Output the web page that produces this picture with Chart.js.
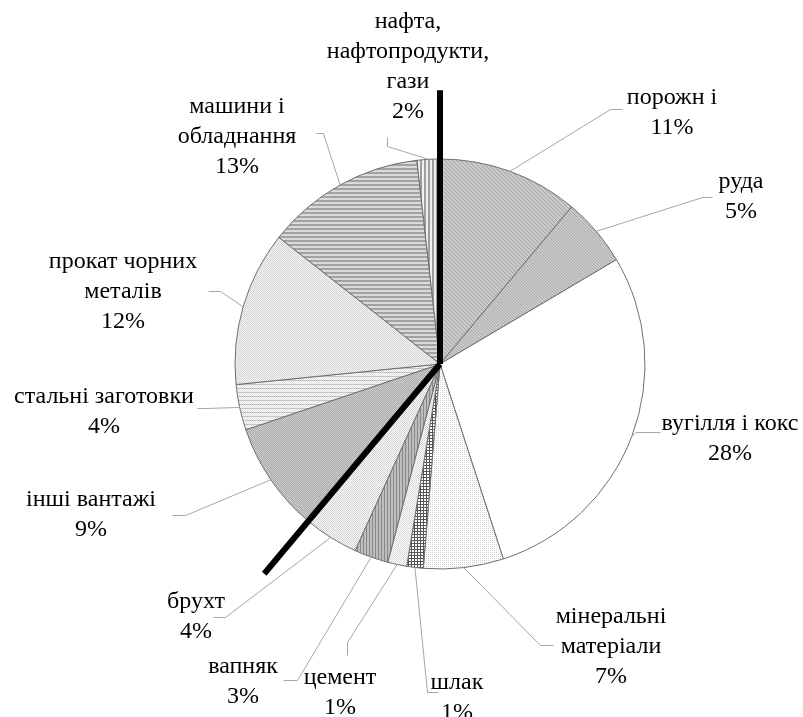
<!DOCTYPE html>
<html lang="uk">
<head>
<meta charset="UTF-8">
<title>Структура вантажів</title>
<script src="https://cdn.jsdelivr.net/npm/chart.js"></script>
<style>
  html, body { margin: 0; padding: 0; background: #fff; }
  canvas { display: block; }
</style>
</head>
<body>
<canvas id="pie" width="803" height="717"></canvas>
<script>
// categories, clockwise from 12 o'clock
const categories = ['порожн і', 'руда', 'вугілля і кокс', 'мінеральні матеріали', 'шлак', 'цемент',
  'вапняк', 'брухт', 'інші вантажі', 'стальні заготовки', 'прокат чорних металів',
  'машини і обладнання', 'нафта, нафтопродукти, гази'];
// shares (%)
const shares = [11.1, 5.4, 28.5, 6.3, 1.3, 1.5, 2.7, 4.3, 8.7, 3.6, 12.2, 12.6, 1.8];
// percentages as printed on the labels
const percentLabels = ['11%', '5%', '28%', '7%', '1%', '1%', '3%', '4%', '9%', '4%', '12%', '13%', '2%'];
// thick divider lines start at these slices
const dividerSlices = [0, 8];

// label placement, offsets from the pie centre: text centre x, first baseline y, leader elbows
const labelLayout = [
  { lines: ['порожн і'], x: 232, y: -260, path: [[170, -255], [182, -255]] },
  { lines: ['руда'], x: 301, y: -176, path: [[262, -167], [272, -167]] },
  { lines: ['вугілля і кокс'], x: 290, y: 66, path: [[196, 68], [220, 68]] },
  { lines: ['мінеральні', 'матеріали'], x: 171, y: 259, path: [[100, 281], [113, 281]] },
  { lines: ['шлак'], x: 17, y: 325, path: [[-13, 328], [-2, 328]] },
  { lines: ['цемент'], x: -100, y: 320, path: [[-93, 278], [-93, 291]] },
  { lines: ['вапняк'], x: -197, y: 309, path: [[-143, 316], [-157, 316]] },
  { lines: ['брухт'], x: -244, y: 244, path: [[-215, 253], [-227, 253]] },
  { lines: ['інші вантажі'], x: -349, y: 142, path: [[-255, 151], [-268, 151]] },
  { lines: ['стальні заготовки'], x: -336, y: 39, path: [[-235, 44], [-243, 44]] },
  { lines: ['прокат чорних', 'металів'], x: -317, y: -96, path: [[-220, -73], [-232, -73]] },
  { lines: ['машини і', 'обладнання'], x: -203, y: -251, path: [[-117, -231], [-124, -231]] },
  { lines: ['нафта,', 'нафтопродукти,', 'гази'], x: -32, y: -336, path: [[-53, -218], [-53, -227]] }
];

// small pixel tiles used as fill patterns
function tile(size, fn) {
  const c = document.createElement('canvas');
  c.width = size; c.height = size;
  const g = c.getContext('2d');
  for (let y = 0; y < size; y++) {
    for (let x = 0; x < size; x++) {
      g.fillStyle = fn(x, y);
      g.fillRect(x, y, 1, 1);
    }
  }
  return g.createPattern(c, 'repeat');
}

const fills = [
  tile(4, (x, y) => (x - y + 8) % 4 === 0 ? '#a8a8a8' : '#c8c8c8'),
  tile(3, (x, y) => (x - y + 6) % 3 === 0 ? '#aaaaaa' : '#cbcbcb'),
  '#ffffff',
  tile(2, (x, y) => (x === 0 && y === 0) ? '#d2d2d2' : '#ffffff'),
  tile(3, (x, y) => (x === 0 || y === 0) ? '#555555' : '#ffffff'),
  tile(2, (x, y) => (x + y) % 2 ? '#ffffff' : '#d6d6d6'),
  tile(3, (x, y) => x === 0 ? '#8a8a8a' : '#bdbdbd'),
  tile(2, (x, y) => (x + y) % 2 ? '#ffffff' : '#cfcfcf'),
  tile(2, (x, y) => (x + y) % 2 ? '#ababab' : '#cdcdcd'),
  tile(4, (x, y) => y === 0 ? '#c4c4c4' : ((x + y) % 2 ? '#ffffff' : '#dedede')),
  tile(2, (x, y) => (x + y) % 2 ? '#f2f2f2' : '#d6d6d6'),
  tile(4, (x, y) => y < 2 ? '#a2a2a2' : '#dadada'),
  tile(4, (x, y) => x < 2 ? '#9e9e9e' : '#f0f0f0')
];

const FONT = '24px "Liberation Serif", "Times New Roman", serif';
const LINE_H = 30;

const labelsPlugin = {
  id: 'pieLabels',
  afterDatasetsDraw(chart) {
    const ctx = chart.ctx;
    const arcs = chart.getDatasetMeta(0).data;
    const cx = arcs[0].x, cy = arcs[0].y, r = arcs[0].outerRadius;

    // leader lines from the middle of each slice edge
    ctx.save();
    ctx.strokeStyle = '#a6a6a6';
    ctx.lineWidth = 1;
    arcs.forEach((arc, i) => {
      const mid = (arc.startAngle + arc.endAngle) / 2;
      const lay = labelLayout[i];
      ctx.beginPath();
      ctx.moveTo(cx + Math.cos(mid) * r, cy + Math.sin(mid) * r);
      lay.path.forEach(p => ctx.lineTo(cx + p[0] + 0.5, cy + p[1] + 0.5));
      ctx.stroke();
    });
    ctx.restore();

    // thick dividers along slice boundaries
    ctx.save();
    ctx.strokeStyle = '#000';
    ctx.lineWidth = 6;
    dividerSlices.forEach(i => {
      const a = arcs[i].startAngle;
      ctx.beginPath();
      ctx.moveTo(cx, cy);
      ctx.lineTo(cx + Math.cos(a) * r * 1.335, cy + Math.sin(a) * r * 1.335);
      ctx.stroke();
    });
    ctx.restore();

    // label text
    ctx.save();
    ctx.font = FONT;
    ctx.fillStyle = '#000';
    ctx.textAlign = 'center';
    ctx.textBaseline = 'alphabetic';
    labelLayout.forEach((lay, i) => {
      const rows = lay.lines.concat([percentLabels[i]]);
      rows.forEach((t, k) => ctx.fillText(t, cx + lay.x, cy + lay.y + k * LINE_H));
    });
    ctx.restore();
  }
};

new Chart(document.getElementById('pie'), {
  type: 'pie',
  data: {
    labels: categories,
    datasets: [{
      data: shares,
      backgroundColor: fills,
      borderColor: '#6f6f6f',
      borderWidth: 1,
      hoverOffset: 0
    }]
  },
  options: {
    responsive: false,
    animation: false,
    events: [],
    radius: 205,
    layout: { padding: { left: 235, right: 158, top: 159, bottom: 148 } },
    plugins: {
      legend: { display: false },
      tooltip: { enabled: false }
    }
  },
  plugins: [labelsPlugin]
});
</script>
</body>
</html>
